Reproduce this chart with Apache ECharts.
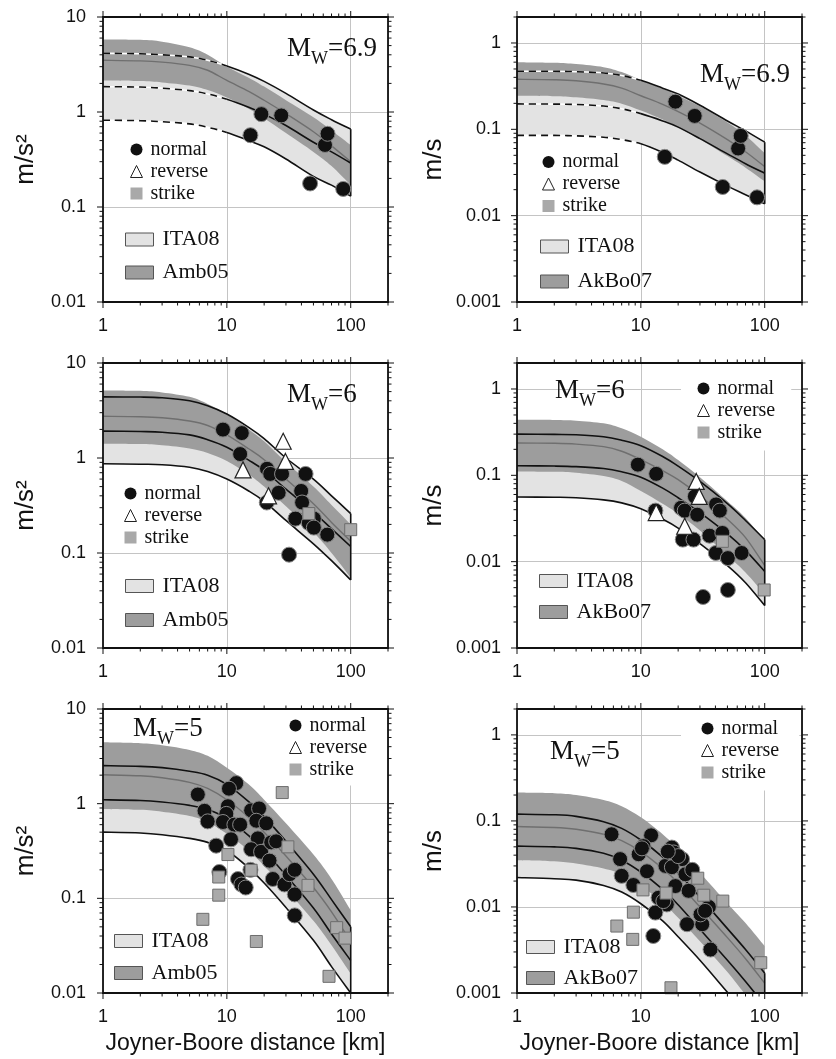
<!DOCTYPE html>
<html><head><meta charset="utf-8">
<script src="https://cdn.jsdelivr.net/npm/echarts@6/dist/echarts.min.js"></script>
<style>html,body{margin:0;padding:0;background:#fff}#c{width:836px;height:1059px}</style>
</head><body><div id="c"></div>
<script>
// ---------------- DATA ----------------
const DIST = [1, 2, 3, 5, 7, 10, 15, 20, 30, 50, 70, 100];   // km, curve sampling distances
const X_LABEL_TICKS = [1, 10, 100];
const PGA_LABEL_TICKS = [0.01, 0.1, 1, 10];
const PGV_LABEL_TICKS = [0.001, 0.01, 0.1, 1];

// Panel 1: Mw 6.9, PGA (m/s2)
const p1_ita_hi  = [4.15, 4.1, 4.0, 3.8, 3.5, 3.05, 2.5, 2.1, 1.57, 1.05, 0.83, 0.66];
const p1_ita_mid = [1.85, 1.83, 1.78, 1.68, 1.55, 1.36, 1.12, 0.95, 0.72, 0.48, 0.38, 0.29];
const p1_ita_lo  = [0.82, 0.81, 0.79, 0.75, 0.69, 0.61, 0.5, 0.43, 0.32, 0.21, 0.17, 0.13];
const p1_gm_hi   = [5.8, 5.75, 5.5, 4.8, 4.0, 3.0, 2.3, 1.85, 1.33, 0.88, 0.64, 0.45];
const p1_gm_mid  = [3.5, 3.45, 3.35, 3.1, 2.75, 2.15, 1.65, 1.33, 0.96, 0.62, 0.44, 0.3];
const p1_gm_lo   = [2.15, 2.12, 2.05, 1.9, 1.7, 1.42, 1.08, 0.86, 0.6, 0.38, 0.27, 0.17];
const p1_normal  = [[15.5,0.57],[19.0,0.95],[27.5,0.92],[47,0.177],[62,0.45],[65,0.59],[87,0.155]];
const p1_reverse = [];
const p1_strike  = [];

// Panel 2: Mw 6.9, PGV (m/s)
const p2_ita_hi  = [0.47, 0.47, 0.465, 0.45, 0.42, 0.37, 0.3, 0.256, 0.19, 0.125, 0.096, 0.071];
const p2_ita_mid = [0.197, 0.196, 0.194, 0.186, 0.173, 0.152, 0.125, 0.106, 0.078, 0.052, 0.04, 0.031];
const p2_ita_lo  = [0.085, 0.085, 0.084, 0.081, 0.076, 0.068, 0.054, 0.044, 0.032, 0.022, 0.0175, 0.0137];
const p2_gm_hi   = [0.6, 0.59, 0.57, 0.525, 0.46, 0.37, 0.295, 0.245, 0.185, 0.12, 0.085, 0.053];
const p2_gm_mid  = [0.38, 0.375, 0.365, 0.335, 0.3, 0.245, 0.195, 0.16, 0.118, 0.076, 0.055, 0.037];
const p2_gm_lo   = [0.245, 0.242, 0.235, 0.218, 0.198, 0.165, 0.13, 0.106, 0.077, 0.049, 0.036, 0.025];
const p2_normal  = [[19.0,0.209],[27.2,0.143],[15.6,0.048],[45.8,0.0215],[61,0.06],[64,0.084],[86.7,0.0163]];
const p2_reverse = [];
const p2_strike  = [];

// Panel 3: Mw 6, PGA
const p3_ita_hi  = [4.4, 4.38, 4.3, 4.0, 3.55, 2.9, 2.1, 1.6, 1.0, 0.6, 0.4, 0.26];
const p3_ita_mid = [1.92, 1.9, 1.87, 1.75, 1.56, 1.3, 0.95, 0.74, 0.47, 0.27, 0.18, 0.117];
const p3_ita_lo  = [0.87, 0.86, 0.85, 0.8, 0.72, 0.6, 0.45, 0.35, 0.22, 0.125, 0.083, 0.052];
const p3_gm_hi   = [5.15, 5.1, 4.9, 4.4, 3.7, 2.9, 2.0, 1.5, 0.9, 0.5, 0.32, 0.2];
const p3_gm_mid  = [2.75, 2.72, 2.65, 2.45, 2.2, 1.75, 1.25, 0.96, 0.6, 0.33, 0.21, 0.133];
const p3_gm_lo   = [1.41, 1.4, 1.36, 1.26, 1.13, 0.93, 0.67, 0.5, 0.31, 0.165, 0.1, 0.055];
const p3_normal  = [[9.3,1.99],[13.2,1.83],[12.8,1.1],[21.1,0.77],[22.4,0.68],[27.9,0.68],[43.2,0.68],[26.2,0.43],[21,0.34],[39.8,0.45],[40.5,0.34],[35.8,0.23],[50.4,0.23],[45.9,0.207],[50.4,0.185],[64.7,0.156],[31.8,0.096]];
const p3_reverse = [[28.5,1.5],[29.7,0.92],[13.5,0.75],[21.7,0.4]];
const p3_strike  = [[45.9,0.26],[100,0.176]];

// Panel 4: Mw 6, PGV
const p4_ita_hi  = [0.30, 0.298, 0.295, 0.28, 0.255, 0.22, 0.165, 0.128, 0.085, 0.047, 0.03, 0.018];
const p4_ita_mid = [0.129, 0.128, 0.126, 0.12, 0.11, 0.095, 0.071, 0.055, 0.037, 0.021, 0.0135, 0.0077];
const p4_ita_lo  = [0.056, 0.0557, 0.055, 0.052, 0.048, 0.041, 0.031, 0.0245, 0.0162, 0.009, 0.0057, 0.0031];
const p4_gm_hi   = [0.44, 0.438, 0.43, 0.4, 0.35, 0.28, 0.2, 0.15, 0.095, 0.05, 0.032, 0.0175];
const p4_gm_mid  = [0.237, 0.235, 0.23, 0.215, 0.19, 0.152, 0.113, 0.089, 0.058, 0.031, 0.019, 0.009];
const p4_gm_lo   = [0.111, 0.11, 0.107, 0.098, 0.086, 0.066, 0.047, 0.036, 0.023, 0.0118, 0.0075, 0.0042];
const p4_normal  = [[9.46,0.133],[13.3,0.104],[13.1,0.039],[21.1,0.042],[22.6,0.039],[28.5,0.035],[27.3,0.057],[40.5,0.046],[43.4,0.039],[21.8,0.018],[26.6,0.018],[35.8,0.02],[45.5,0.0215],[40.3,0.0126],[50.4,0.011],[65.1,0.0126],[31.8,0.0039],[50.4,0.0047]];
const p4_reverse = [[28,0.085],[29.6,0.057],[13.3,0.037],[22.6,0.0257]];
const p4_strike  = [[45.5,0.0172],[99,0.0047]];

// Panel 5: Mw 5, PGA
const p5_ita_hi  = [2.52, 2.48, 2.4, 2.2, 2.0, 1.6, 1.05, 0.73, 0.4, 0.18, 0.097, 0.05];
const p5_ita_mid = [1.1, 1.08, 1.04, 0.96, 0.87, 0.7, 0.46, 0.32, 0.175, 0.079, 0.042, 0.022];
const p5_ita_lo  = [0.5, 0.49, 0.47, 0.43, 0.39, 0.32, 0.21, 0.145, 0.08, 0.036, 0.019, 0.01];
const p5_gm_hi   = [4.45, 4.35, 4.15, 3.7, 3.2, 2.4, 1.6, 1.1, 0.62, 0.29, 0.16, 0.075];
const p5_gm_mid  = [2.02, 1.97, 1.88, 1.68, 1.45, 1.1, 0.72, 0.5, 0.28, 0.13, 0.072, 0.035];
const p5_gm_lo   = [0.88, 0.86, 0.82, 0.74, 0.64, 0.48, 0.32, 0.22, 0.125, 0.058, 0.032, 0.016];
const p5_normal  = [[5.83,1.25],[11.9,1.65],[10.4,1.44],[6.6,0.84],[7.0,0.65],[10.2,0.94],[9.9,0.78],[9.3,0.64],[11.5,0.6],[10.8,0.42],[8.2,0.36],[15.7,0.85],[18.2,0.89],[17.3,0.66],[20.8,0.62],[17.8,0.43],[15.7,0.33],[18.9,0.31],[22.8,0.39],[25,0.4],[22.1,0.25],[23.5,0.16],[12.3,0.16],[13.1,0.14],[14.2,0.13],[8.7,0.19],[29.2,0.14],[32.1,0.18],[35.3,0.2],[35.3,0.11],[35.3,0.066],[12.8,0.6],[15.5,0.2]];
const p5_reverse = [];
const p5_strike  = [[28,1.31],[10.2,0.29],[15.7,0.198],[31.1,0.35],[8.6,0.168],[8.6,0.108],[6.4,0.06],[17.3,0.035],[45.2,0.137],[66.8,0.015],[77,0.049],[90,0.038]];

// Panel 6: Mw 5, PGV
const p6_ita_hi  = [0.12, 0.118, 0.113, 0.098, 0.082, 0.06, 0.038, 0.025, 0.013, 0.0056, 0.0032, 0.0017];
const p6_ita_mid = [0.051, 0.05, 0.048, 0.042, 0.035, 0.0255, 0.016, 0.0106, 0.0055, 0.0024, 0.00136, 0.00072];
const p6_ita_lo  = [0.022, 0.0213, 0.0205, 0.0178, 0.0149, 0.0109, 0.0069, 0.0045, 0.0024, 0.00102, 0.00058, 0.00031];
const p6_gm_hi   = [0.214, 0.21, 0.2, 0.175, 0.148, 0.11, 0.07, 0.047, 0.025, 0.011, 0.0065, 0.0035];
const p6_gm_mid  = [0.086, 0.084, 0.08, 0.07, 0.059, 0.044, 0.028, 0.019, 0.01, 0.0044, 0.0025, 0.0013];
const p6_gm_lo   = [0.035, 0.034, 0.032, 0.028, 0.024, 0.0176, 0.0112, 0.0075, 0.004, 0.00175, 0.00095, 0.0005];
const p6_normal  = [[5.8,0.07],[12.1,0.068],[10.5,0.051],[9.6,0.041],[6.8,0.036],[11.2,0.026],[7.0,0.023],[8.7,0.018],[17.8,0.049],[18.4,0.043],[15.8,0.03],[21.5,0.036],[17.8,0.029],[22.9,0.024],[19,0.0175],[24.3,0.0154],[13.9,0.0128],[16.2,0.0107],[13.1,0.0086],[23.6,0.0063],[31.3,0.0063],[30.3,0.0082],[35.4,0.01],[36.5,0.0032],[12.6,0.0046],[15.2,0.0117],[10.2,0.048],[20,0.039],[16.5,0.044],[26,0.027],[33,0.009]];
const p6_reverse = [];
const p6_strike  = [[10.4,0.0158],[16,0.0145],[28.8,0.0216],[32.2,0.0137],[45.9,0.0117],[8.7,0.0087],[6.4,0.006],[8.6,0.0042],[92.9,0.00225],[17.5,0.00115]];

// ---------------- LAYOUT / STYLE ----------------
const PANELS = [
  {ita:[p1_ita_lo,p1_ita_mid,p1_ita_hi], gm:[p1_gm_lo,p1_gm_mid,p1_gm_hi], gmName:'Amb05', pts:[p1_normal,p1_reverse,p1_strike], pgv:false, dashed:true, mw:'6.9',
   grid:{left:103,top:17,width:285,height:285}, mwPos:[287,35], legM:{left:130,top:139.5,pad:0,bg:false}, legB:{left:125,top:228.5,gap:11}},
  {ita:[p2_ita_lo,p2_ita_mid,p2_ita_hi], gm:[p2_gm_lo,p2_gm_mid,p2_gm_hi], gmName:'AkBo07', pts:[p2_normal,p2_reverse,p2_strike], pgv:true, dashed:true, mw:'6.9',
   grid:{left:517,top:17,width:285,height:285}, mwPos:[700,61], legM:{left:542,top:152,pad:0,bg:false}, legB:{left:540,top:235.5,gap:13}},
  {ita:[p3_ita_lo,p3_ita_mid,p3_ita_hi], gm:[p3_gm_lo,p3_gm_mid,p3_gm_hi], gmName:'Amb05', pts:[p3_normal,p3_reverse,p3_strike], pgv:false, dashed:false, mw:'6',
   grid:{left:103,top:363,width:285,height:285}, mwPos:[287,381], legM:{left:124,top:483.5,pad:0,bg:false}, legB:{left:125,top:575,gap:12}},
  {ita:[p4_ita_lo,p4_ita_mid,p4_ita_hi], gm:[p4_gm_lo,p4_gm_mid,p4_gm_hi], gmName:'AkBo07', pts:[p4_normal,p4_reverse,p4_strike], pgv:true, dashed:false, mw:'6',
   grid:{left:517,top:363,width:285,height:285}, mwPos:[555,377], legM:{left:681,top:363,pad:[15.5,16,8,16],bg:true}, legB:{left:539,top:570,gap:9}},
  {ita:[p5_ita_lo,p5_ita_mid,p5_ita_hi], gm:[p5_gm_lo,p5_gm_mid,p5_gm_hi], gmName:'Amb05', pts:[p5_normal,p5_reverse,p5_strike], pgv:false, dashed:false, mw:'5',
   grid:{left:103,top:709,width:285,height:284}, mwPos:[133,715], legM:{left:277,top:710,pad:[5.5,20,6,12],bg:true}, legB:{left:114,top:930,gap:10}},
  {ita:[p6_ita_lo,p6_ita_mid,p6_ita_hi], gm:[p6_gm_lo,p6_gm_mid,p6_gm_hi], gmName:'AkBo07', pts:[p6_normal,p6_reverse,p6_strike], pgv:true, dashed:false, mw:'5',
   grid:{left:517,top:709,width:285,height:284}, mwPos:[550,738], legM:{left:681,top:710,pad:[8.5,20,8,20],bg:true}, legB:{left:526,top:936,gap:9}}
];

const C_LIGHT = '#e3e3e3', C_DARK = '#9d9d9d', C_MIDLINE = '#6f6f6f', C_GRID = '#c4c4c4';
const SANS = 'Liberation Sans', SERIF = 'Liberation Serif';

// ---------------- HELPERS ----------------
function f(n){ return n.toFixed(2); }
function pathThrough(pts, i0, i1, move) {
  let s = (move ? 'M' : 'L') + f(pts[i0][0]) + ',' + f(pts[i0][1]);
  for (let i = i0; i < i1; i++) {
    const p0 = pts[Math.max(i - 1, 0)], p1 = pts[i], p2 = pts[i + 1], p3 = pts[Math.min(i + 2, pts.length - 1)];
    const c1 = [p1[0] + (p2[0] - p0[0]) / 6, p1[1] + (p2[1] - p0[1]) / 6];
    const c2 = [p2[0] - (p3[0] - p1[0]) / 6, p2[1] - (p3[1] - p1[1]) / 6];
    s += 'C' + f(c1[0]) + ',' + f(c1[1]) + ' ' + f(c2[0]) + ',' + f(c2[1]) + ' ' + f(p2[0]) + ',' + f(p2[1]);
  }
  return s;
}
function curvePts(api, n, dim) {
  const a = [];
  for (let k = 0; k < n; k++) a.push(api.coord([api.value(0, k), api.value(dim, k)]));
  return a;
}
function bandRender(fill, midStroke) {
  return function (params, api) {
    if (params.dataIndexInside !== 0) return;
    const n = params.dataInsideLength;
    const lo = curvePts(api, n, 1), hi = curvePts(api, n, 3);
    const d = pathThrough(hi, 0, n - 1, true) + pathThrough(lo.slice().reverse(), 0, n - 1, false) + 'Z';
    const ch = [{type: 'path', shape: {pathData: d}, style: {fill: fill, stroke: 'none'}}];
    if (midStroke) ch.push({type: 'path', shape: {pathData: pathThrough(curvePts(api, n, 2), 0, n - 1, true)}, style: {fill: 'none', stroke: midStroke, lineWidth: 1.4}});
    return {type: 'group', children: ch};
  };
}
function itaLinesRender(dashed) {
  return function (params, api) {
    if (params.dataIndexInside !== 0) return;
    const n = params.dataInsideLength;
    let ks = 0;
    for (let k = 0; k < n; k++) if (api.value(0, k) <= 10) ks = k;
    const ch = [];
    [1, 2, 3].forEach(dim => {
      const p = curvePts(api, n, dim);
      if (dashed) {
        const dd = pathThrough(p, 0, ks, true);
        ch.push({type: 'path', shape: {pathData: dd}, style: {fill: 'none', stroke: '#fff', lineWidth: 1.6}});
        ch.push({type: 'path', shape: {pathData: dd}, style: {fill: 'none', stroke: '#111', lineWidth: 1.6, lineDash: [7, 5]}});
        ch.push({type: 'path', shape: {pathData: pathThrough(p, ks, n - 1, true)}, style: {fill: 'none', stroke: '#111', lineWidth: 1.6}});
      } else {
        ch.push({type: 'path', shape: {pathData: pathThrough(p, 0, n - 1, true)}, style: {fill: 'none', stroke: '#111', lineWidth: 1.6}});
      }
    });
    const a = api.coord([api.value(0, n - 1), api.value(1, n - 1)]);
    const b = api.coord([api.value(0, n - 1), api.value(3, n - 1)]);
    ch.push({type: 'line', shape: {x1: a[0], y1: a[1], x2: b[0], y2: b[1]}, style: {stroke: '#111', lineWidth: 1.6}});
    return {type: 'group', children: ch};
  };
}
function logTicks(lo, hi) {
  const out = [];
  for (let e = Math.floor(Math.log10(lo)); e <= Math.ceil(Math.log10(hi)); e++)
    for (let m = 1; m <= 9; m++) {
      const v = +(m * Math.pow(10, e)).toPrecision(3);
      if (v >= lo * 0.999 && v <= hi * 1.001) out.push({v: v, major: m === 1});
    }
  return out;
}
function frameRender(xt, yt) {
  return function (params, api) {
    if (params.dataIndexInside !== 0) return;
    const cs = params.coordSys;
    const L = cs.x, R = cs.x + cs.width, T = cs.y, B = cs.y + cs.height;
    const ch = [];
    const ln = (x1, y1, x2, y2) => ({type: 'line', shape: {x1, y1, x2, y2}, style: {stroke: '#111', lineWidth: 1}});
    xt.forEach(t => {
      const px = api.coord([t.v, 1])[0];
      const len = t.major ? 6 : 3.5;
      ch.push(ln(px, B, px, B + len), ln(px, T, px, T - len));
    });
    yt.forEach(t => {
      const py = api.coord([1, t.v])[1];
      const len = t.major ? 6 : 3.5;
      ch.push(ln(L, py, L - len, py), ln(R, py, R + len, py));
    });
    ch.push({type: 'rect', shape: {x: L, y: T, width: R - L, height: B - T}, style: {fill: 'none', stroke: '#111', lineWidth: 1.8}});
    return {type: 'group', children: ch};
  };
}
function decadeFmt(list) {
  return function (v) {
    for (const t of list) if (Math.abs(Math.log10(v) - Math.log10(t)) < 1e-6) return String(t);
    return '';
  };
}

// ---------------- OPTION ----------------
const option = {animation: false, backgroundColor: '#fff', grid: [], xAxis: [], yAxis: [], series: [], legend: [], title: []};
const xTicks = logTicks(1, 200);

PANELS.forEach((P, i) => {
  const bottomRow = i >= 4, rightCol = (i % 2) === 1;
  const yMin = P.pgv ? 0.001 : 0.01, yMax = P.pgv ? 2 : 10;
  option.grid.push(Object.assign({show: false}, P.grid));
  option.xAxis.push({
    type: 'log', logBase: 10, gridIndex: i, min: 1, max: 200,
    axisLine: {show: false}, axisTick: {show: false},
    splitLine: {show: true, lineStyle: {color: C_GRID, width: 1}},
    axisLabel: {margin: 15, fontFamily: SANS, fontSize: 18, color: '#111', formatter: decadeFmt(X_LABEL_TICKS), showMaxLabel: false},
    name: bottomRow ? 'Joyner-Boore distance [km]' : '', nameLocation: 'middle', nameGap: 39,
    nameTextStyle: {fontFamily: SANS, fontSize: 23, color: '#111'}
  });
  option.yAxis.push({
    type: 'log', logBase: 10, gridIndex: i, min: yMin, max: yMax,
    axisLine: {show: false}, axisTick: {show: false},
    splitLine: {show: true, lineStyle: {color: C_GRID, width: 1}},
    axisLabel: {margin: rightCol ? 16 : 17, fontFamily: SANS, fontSize: 18, color: '#111', formatter: decadeFmt(P.pgv ? PGV_LABEL_TICKS : PGA_LABEL_TICKS)},
    name: P.pgv ? 'm/s' : 'm/s²', nameLocation: 'middle', nameRotate: 90, nameGap: rightCol ? 70 : 64,
    nameTextStyle: {fontFamily: SANS, fontSize: 26, color: '#111'}
  });
  const itaRows = DIST.map((d, k) => [d, P.ita[0][k], P.ita[1][k], P.ita[2][k]]);
  const gmRows = DIST.map((d, k) => [d, P.gm[0][k], P.gm[1][k], P.gm[2][k]]);
  const base = {type: 'custom', coordinateSystem: 'cartesian2d', xAxisIndex: i, yAxisIndex: i, clip: true, silent: true, encode: {x: 0, y: [1, 2, 3]}};
  option.series.push(Object.assign({}, base, {name: 'ITA08', data: itaRows, renderItem: bandRender(C_LIGHT, null), itemStyle: {color: C_LIGHT}, z: 2}));
  option.series.push(Object.assign({}, base, {name: P.gmName, data: gmRows, renderItem: bandRender(C_DARK, C_MIDLINE), itemStyle: {color: C_DARK}, z: 2}));
  option.series.push(Object.assign({}, base, {name: 'ITA08 curves', data: itaRows, renderItem: itaLinesRender(P.dashed), z: 2}));
  option.series.push({type: 'scatter', name: 'normal', xAxisIndex: i, yAxisIndex: i, data: P.pts[0], symbol: 'circle', symbolSize: 15, z: 5,
    itemStyle: {color: '#111', borderColor: '#8a8a8a', borderWidth: 1, opacity: 1}});
  option.series.push({type: 'scatter', name: 'reverse', xAxisIndex: i, yAxisIndex: i, data: P.pts[1], symbol: 'triangle', symbolSize: 16, z: 5,
    itemStyle: {color: '#fff', borderColor: '#222', borderWidth: 1.2, opacity: 1}});
  option.series.push({type: 'scatter', name: 'strike', xAxisIndex: i, yAxisIndex: i, data: P.pts[2], symbol: 'rect', symbolSize: 12, z: 5,
    itemStyle: {color: '#a9a9a9', borderColor: '#6d6d6d', borderWidth: 1, opacity: 1}});
  option.series.push({type: 'custom', coordinateSystem: 'cartesian2d', xAxisIndex: i, yAxisIndex: i, clip: false, silent: true, z: 10,
    data: [[1, 1]], renderItem: frameRender(xTicks, logTicks(yMin, yMax))});

  option.legend.push({
    orient: 'vertical', left: P.legM.left, top: P.legM.top, padding: P.legM.pad,
    backgroundColor: P.legM.bg ? '#fff' : 'transparent', selectedMode: false,
    itemWidth: 12, itemHeight: 12, itemGap: 2,
    textStyle: {fontFamily: SERIF, fontSize: 20, color: '#111', padding: [0, 0, 0, 3]},
    data: [
      {name: 'normal', icon: 'circle', itemStyle: {color: '#111', borderWidth: 0}},
      {name: 'reverse', icon: 'triangle', itemStyle: {color: '#fff', borderColor: '#222', borderWidth: 1}},
      {name: 'strike', icon: 'rect', itemStyle: {color: '#a9a9a9', borderWidth: 0}}
    ]
  });
  option.legend.push({
    orient: 'vertical', left: P.legB.left, top: P.legB.top, padding: 0, selectedMode: false,
    itemWidth: 28, itemHeight: 13, itemGap: P.legB.gap,
    textStyle: {fontFamily: SERIF, fontSize: 22, color: '#111', padding: [0, 0, 0, 4]},
    data: [
      {name: 'ITA08', icon: 'rect', itemStyle: {color: C_LIGHT, borderColor: '#555', borderWidth: 1}},
      {name: P.gmName, icon: 'rect', itemStyle: {color: C_DARK, borderColor: '#555', borderWidth: 1}}
    ]
  });
  option.title.push({
    text: '{m|M}{s|W}{m|=' + P.mw + '}', left: P.mwPos[0], top: P.mwPos[1], padding: 0,
    textStyle: {fontWeight: 'normal', rich: {
      m: {fontFamily: SERIF, fontSize: 27, fontWeight: 'normal', color: '#111', lineHeight: 27, verticalAlign: 'top'},
      s: {fontFamily: SERIF, fontSize: 18, fontWeight: 'normal', color: '#111', lineHeight: 18, verticalAlign: 'top', padding: [15, 0, 0, 0]}
    }}
  });
});

const chart = echarts.init(document.getElementById('c'));
chart.setOption(option);
</script>
</body></html>
